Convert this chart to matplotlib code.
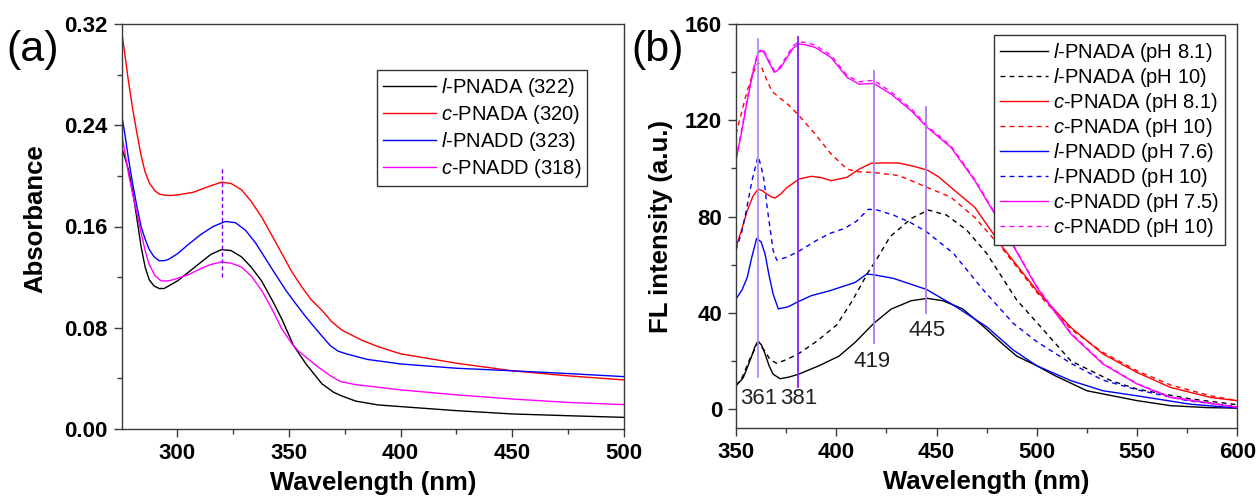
import matplotlib
matplotlib.use("Agg")
import matplotlib.pyplot as plt
from matplotlib.ticker import FixedLocator, MultipleLocator, FormatStrFormatter

plt.rcParams['font.family'] = ['Liberation Sans', 'DejaVu Sans']
plt.rcParams['mathtext.fontset'] = 'custom'
plt.rcParams['mathtext.rm'] = 'Liberation Sans'
plt.rcParams['mathtext.it'] = 'Liberation Sans:italic'

# ---------------- Panel (a): absorbance ----------------
abs_labels = [r"$\mathit{l}$-PNADA (322)", r"$\mathit{c}$-PNADA (320)",
              r"$\mathit{l}$-PNADD (323)", r"$\mathit{c}$-PNADD (318)"]
abs_colors = ["black", "red", "blue", "magenta"]

wl_lpnada_a = [275, 276.5, 278, 280, 282, 283.7, 285.5, 287.3, 289.5, 291.8, 294, 296, 300, 305,
               310.7, 315, 319.7, 324, 328.7, 333, 337.7, 343, 347, 352, 357.6, 364.8, 370, 373.8,
               380, 390, 400, 425, 450, 475, 500]
ab_lpnada = [0.222, 0.214, 0.205, 0.187, 0.164, 0.144, 0.128, 0.118, 0.113, 0.111, 0.111, 0.113,
             0.117, 0.124, 0.132, 0.138, 0.1417, 0.141, 0.136, 0.128, 0.117, 0.100, 0.086, 0.066,
             0.0514, 0.0356, 0.029, 0.026, 0.022, 0.019, 0.0177, 0.0145, 0.0119, 0.0105, 0.0092]

wl_cpnada_a = [275, 276.5, 278, 280, 281.9, 283.7, 285.5, 287.5, 290, 292, 294.5, 297, 300, 307,
               313, 319.7, 324, 328.7, 333, 337.7, 342, 346.8, 351, 355.8, 360, 364.8, 369, 373.8,
               382.8, 390, 400, 425, 450, 475, 500]
ab_cpnada = [0.314, 0.295, 0.275, 0.252, 0.233, 0.216, 0.203, 0.194, 0.188, 0.1855, 0.1847, 0.1845,
             0.185, 0.187, 0.191, 0.195, 0.194, 0.189, 0.18, 0.1675, 0.154, 0.1385, 0.125, 0.112,
             0.102, 0.0937, 0.085, 0.078, 0.070, 0.065, 0.0594, 0.052, 0.046, 0.042, 0.0388]

wl_lpnadd_a = [275, 276.5, 278, 280, 281.9, 283.7, 285.5, 287.3, 289.5, 291.8, 294, 296, 300, 305,
               310.7, 316, 321.5, 326, 330.5, 335, 339.5, 344, 348.6, 353, 357.6, 363, 368.4,
               372, 375.6, 385, 400, 425, 450, 475, 500]
ab_lpnadd = [0.248, 0.232, 0.214, 0.193, 0.175, 0.160, 0.150, 0.142, 0.136, 0.133, 0.133, 0.134,
             0.1385, 0.146, 0.154, 0.160, 0.164, 0.163, 0.157, 0.147, 0.1345, 0.122, 0.1095,
             0.099, 0.0884, 0.077, 0.066, 0.0615, 0.0594, 0.055, 0.0514, 0.048, 0.046, 0.0438,
             0.0414]

wl_cpnadd_a = [275, 276.5, 278, 280, 281.9, 283.7, 285.5, 287.3, 290, 292.7, 296, 300, 305, 310.7,
               315, 319.7, 324, 328.7, 333, 337.7, 342, 346.8, 351, 354, 357.6, 363, 368.4, 373,
               380, 390, 400, 425, 450, 475, 500]
ab_cpnadd = [0.233, 0.218, 0.202, 0.185, 0.170, 0.155, 0.141, 0.130, 0.121, 0.117, 0.117, 0.119,
             0.122, 0.127, 0.130, 0.132, 0.131, 0.128, 0.121, 0.1095, 0.096, 0.079, 0.068, 0.062,
             0.0567, 0.049, 0.0422, 0.0375, 0.0350, 0.0330, 0.0309, 0.027, 0.0237, 0.021, 0.0193]

abs_x = [wl_lpnada_a, wl_cpnada_a, wl_lpnadd_a, wl_cpnadd_a]
abs_y = [ab_lpnada, ab_cpnada, ab_lpnadd, ab_cpnadd]
abs_marker_wl = 320
abs_marker_range = [0.120, 0.206]

# ---------------- Panel (b): fluorescence ----------------
fl_labels = [r"$\mathit{l}$-PNADA (pH 8.1)", r"$\mathit{l}$-PNADA (pH 10)",
             r"$\mathit{c}$-PNADA (pH 8.1)", r"$\mathit{c}$-PNADA (pH 10)",
             r"$\mathit{l}$-PNADD (pH 7.6)", r"$\mathit{l}$-PNADD (pH 10)",
             r"$\mathit{c}$-PNADD (pH 7.5)", r"$\mathit{c}$-PNADD (pH 10)"]
fl_colors = ["black", "black", "red", "red", "blue", "blue", "magenta", "magenta"]
fl_styles = ["solid", "dashed", "solid", "dashed", "solid", "dashed", "solid", "dashed"]

wl_b1 = [350, 352, 353.6, 355.5, 357.6, 359.5, 361, 362.8, 364.5, 366.5, 368.5, 372, 376, 381,
         391.4, 401.4, 409.4, 418.7, 427.3, 437.3, 445.4, 453.2, 463.1, 473, 483, 490, 500, 509,
         525, 550, 566.7, 585, 600]
fl_l_81 = [9.7, 11.5, 13, 17, 21.5, 26, 28.3, 26.5, 22.9, 18, 14.5, 12.6, 13.2, 14.4, 18, 22.0,
           27.7, 35.6, 41.5, 45, 46, 45, 41.6, 34.6, 27, 22, 18, 13.9, 7.6, 3.5, 1.4, 0.6, 0.4]

wl_b2 = [350, 353, 357, 361, 364.5, 367, 370.3, 375, 381, 390, 400.2, 408, 416, 420, 426.8,
         437.6, 445.9, 455, 465, 475, 490, 500, 517, 537, 550, 576.7, 600]
fl_l_10 = [9.7, 13, 21, 27.5, 24, 20.5, 19, 20.5, 22.9, 28, 34.9, 45, 57, 62, 71.6, 79.3, 82.7,
           80.6, 74.4, 64.7, 45.3, 36, 20, 11.8, 8.3, 4.2, 1.8]

wl_b3 = [350, 353, 355.6, 358.5, 361, 363, 365.5, 367.5, 369.5, 372.5, 375.5, 381.5, 387.5,
         392.5, 397.4, 405.4, 411, 417.3, 424, 431.3, 438, 445.4, 451, 457.2, 469.1, 483, 500,
         517, 533, 550, 566.7, 586.7, 600]
fl_c_81 = [67.2, 75, 82.4, 88.5, 91.4, 90.8, 89.3, 88.2, 87.7, 89.5, 92.1, 95.6, 96.7, 96.2, 94.9,
           96.3, 99.5, 102.1, 102.3, 102.2, 101, 99.3, 96.5, 92.1, 83.8, 67.2, 49.2, 33.9, 22.9,
           15.2, 9, 4.8, 3.5]

wl_b4 = [350, 353, 355.6, 358.5, 361, 363, 365.5, 368, 371.5, 376, 381.5, 389.4, 397.4, 405.4,
         411, 418.7, 431.3, 445.4, 457.2, 469.1, 483, 500, 517, 533, 550, 566.7, 586.7, 600]
fl_c_10 = [114.3, 124, 132.3, 139.5, 144, 141.5, 136.4, 132, 129.5, 126.5, 121.9, 114.3, 106,
           99.7, 98.6, 98.3, 97, 92.1, 88, 79.6, 66.5, 48.5, 33.2, 23.5, 15.9, 10, 5.5, 3.5]

wl_b5 = [350, 353, 355.6, 358, 360.3, 362.5, 364.5, 366.5, 368.5, 371.1, 376, 381, 387.5, 396.9,
         409.4, 415.2, 418.7, 428.5, 445, 458.4, 475, 488.3, 500, 517, 533, 550, 576.7, 600]
fl_ld_76 = [45.7, 49.5, 54.7, 63.5, 70.9, 69.5, 64.4, 55.5, 47.8, 41.6, 42.5, 44.6, 47.1, 49.2,
            52.6, 56.1, 55.8, 54.3, 49.7, 43.2, 34.2, 24.5, 18, 11.8, 7.6, 5.5, 2, 0.4]

wl_b6 = [350, 353, 355, 358, 361, 362.5, 364, 365.5, 367, 368.5, 370.3, 375, 381, 390, 396.9, 404,
         410, 416, 420, 428.5, 437, 445, 458.4, 473.3, 488.3, 500, 517, 533, 550, 575, 600]
fl_ld_10 = [66, 74, 82, 95, 105, 101, 95, 84, 75, 66, 61.9, 63, 65.4, 70, 73, 75, 78, 83, 82.8,
            80.6, 77.5, 73.7, 64.7, 49.5, 35.6, 28, 19, 12, 8, 3.5, 1]

wl_b7 = [350, 353, 355.6, 358.5, 361, 363.5, 366.5, 369.1, 372, 375.5, 378.5, 381.5, 385, 389.4,
         397.4, 405.4, 411.4, 418.7, 427.3, 437.3, 445.4, 457.2, 469.1, 483, 500, 517, 533, 550,
         566.7, 600]
fl_cd_75 = [103.2, 116, 128, 140, 148.2, 148.9, 144, 139.9, 141.5, 146.1, 150, 151.7, 151.3, 150.3,
            146.1, 137.8, 135, 135.3, 130.9, 124, 117, 108.7, 94.9, 75.5, 50.6, 31.2, 18.7, 10.4,
            4.8, 0.7]
fl_cd_10 = [104, 117, 129, 141, 148.5, 149.6, 144.8, 140.5, 142.2, 147, 151, 152.6, 152.3, 151.2,
            147, 138.6, 136, 136.6, 131.8, 124.8, 117.6, 109.3, 95.4, 76, 51, 31.6, 19, 10.6, 5,
            0.8]

fl_x = [wl_b1, wl_b2, wl_b3, wl_b4, wl_b5, wl_b6, wl_b7, wl_b7]
fl_y = [fl_l_81, fl_l_10, fl_c_81, fl_c_10, fl_ld_76, fl_ld_10, fl_cd_75, fl_cd_10]

peak_wl = [361, 381, 419, 445]
peak_lo = [13.2, 9.3, 27.3, 40]
peak_hi = [153.8, 154.7, 140.3, 125.6]
peak_colors = ["#b48cf5", "#7f1fff", "#a97af0", "#a97af0"]
peak_text_xy = [(361.5, 4.2), (381.5, 4.2), (418, 19.7), (445.4, 32.5)]

# ---------------- Figure ----------------
fig = plt.figure(figsize=(12.58, 4.99), dpi=100)
W, H = 1258, 499
ax1 = fig.add_axes([121.7 / W, 1 - 429 / H, (623.7 - 121.7) / W, (429 - 24) / H])
ax2 = fig.add_axes([736 / W, 1 - 428.3 / H, (1237.3 - 736) / W, (428.3 - 24) / H])

spine_col = "#3a3a3a"
tick_fs = 16
label_fs = 18.5
leg_fs = 14.5

for ax in (ax1, ax2):
    for s in ax.spines.values():
        s.set_color(spine_col)
        s.set_linewidth(1.0)
    ax.tick_params(which="both", direction="out", top=False, right=False, color=spine_col,
                   width=1.0, labelsize=tick_fs, pad=4)
    ax.tick_params(which="major", length=6)
    ax.tick_params(which="minor", length=3.5)

# Panel (a)
for x, y, c, l in zip(abs_x, abs_y, abs_colors, abs_labels):
    ax1.plot(x, y, color=c, lw=1.0, label=l)
ax1.plot([abs_marker_wl, abs_marker_wl], abs_marker_range, color="#8000ff", lw=1.0,
         linestyle=(0, (3, 2)))
ax1.set_xlim(275, 500)
ax1.set_ylim(0, 0.32)
ax1.xaxis.set_major_locator(FixedLocator([300, 350, 400, 450, 500]))
ax1.xaxis.set_minor_locator(FixedLocator([325, 375, 425, 475]))
ax1.yaxis.set_major_locator(MultipleLocator(0.08))
ax1.yaxis.set_minor_locator(FixedLocator([0.04, 0.12, 0.20, 0.28]))
ax1.yaxis.set_major_formatter(FormatStrFormatter("%.2f"))
ax1.set_xlabel("Wavelength (nm)", fontsize=label_fs, fontweight="bold")
ax1.set_ylabel("Absorbance", fontsize=label_fs, fontweight="bold")
ax1.xaxis.set_label_coords(0.5, -0.104)
ax1.yaxis.set_label_coords(-0.148, 0.52)
leg1 = ax1.legend(loc="upper right", bbox_to_anchor=(0.927, 0.886), borderaxespad=0,
                  fontsize=leg_fs, frameon=True, fancybox=False, framealpha=1,
                  edgecolor="#333333", handlelength=2.6, handletextpad=0.25,
                  labelspacing=0.2, borderpad=0.3)
leg1.get_frame().set_linewidth(1.0)

# Panel (b)
for x, y, c, ls, l in zip(fl_x, fl_y, fl_colors, fl_styles, fl_labels):
    style = "-" if ls == "solid" else (0, (3.5, 3))
    ax2.plot(x, y, color=c, lw=1.0, linestyle=style, label=l)
for wl, lo, hi, pc in zip(peak_wl, peak_lo, peak_hi, peak_colors):
    ax2.plot([wl, wl], [lo, hi], color=pc, lw=1.3)
for wl, (tx, ty) in zip(peak_wl, peak_text_xy):
    ax2.text(tx, ty, str(wl), fontsize=16, ha="center", va="center", color="#222222")
ax2.set_xlim(350, 600)
ax2.set_ylim(-8, 160)
ax2.xaxis.set_major_locator(MultipleLocator(50))
ax2.xaxis.set_minor_locator(FixedLocator([375, 425, 475, 525, 575]))
ax2.yaxis.set_major_locator(FixedLocator([0, 40, 80, 120, 160]))
ax2.yaxis.set_minor_locator(FixedLocator([20, 60, 100, 140]))
ax2.set_xlabel("Wavelength (nm)", fontsize=label_fs, fontweight="bold")
ax2.set_ylabel("FL intensity (a.u.)", fontsize=label_fs, fontweight="bold")
ax2.xaxis.set_label_coords(0.5, -0.104)
ax2.yaxis.set_label_coords(-0.125, 0.5)
leg2 = ax2.legend(loc="upper right", bbox_to_anchor=(0.9755, 0.9728), borderaxespad=0,
                  fontsize=leg_fs, frameon=True, fancybox=False, framealpha=1,
                  edgecolor="#333333", handlelength=2.35, handletextpad=0.25,
                  labelspacing=0.1, borderpad=0.3)
leg2.get_frame().set_linewidth(1.0)

for ax in (ax1, ax2):
    for lab in ax.get_xticklabels() + ax.get_yticklabels():
        lab.set_fontweight("bold")

fig.text(33 / W, 1 - 50 / H, "(a)", fontsize=31, ha="center", va="center")
fig.text(658 / W, 1 - 50 / H, "(b)", fontsize=31, ha="center", va="center")

fig.savefig("out.png", dpi=100)
